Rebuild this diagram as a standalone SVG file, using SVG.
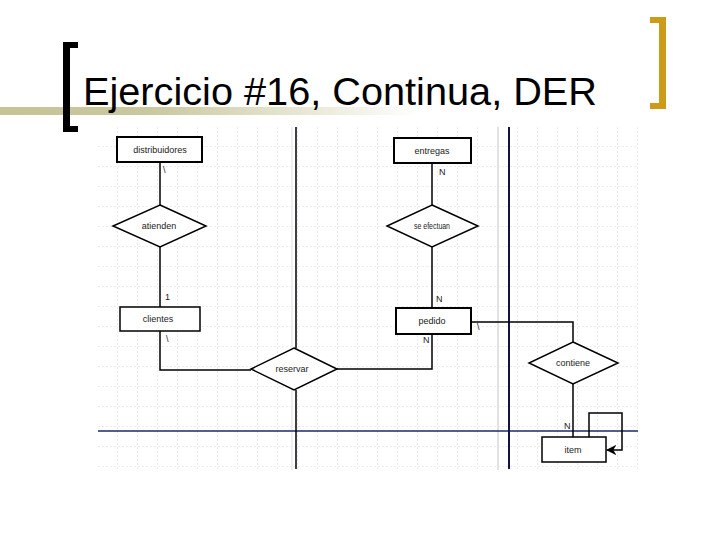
<svg xmlns="http://www.w3.org/2000/svg" width="720" height="540" viewBox="0 0 720 540">
<defs>
<linearGradient id="bar" x1="0" y1="0" x2="1" y2="0">
<stop offset="0" stop-color="#c6c496"/>
<stop offset="0.35" stop-color="#c9c79d"/>
<stop offset="1" stop-color="#c9c79d" stop-opacity="0"/>
</linearGradient>
<pattern id="grid" x="98" y="127" width="20" height="20" patternUnits="userSpaceOnUse">
<path d="M20 0V20M0 20H20" fill="none" stroke="#cfcfcf" stroke-width="0.8" stroke-dasharray="2 2"/>
</pattern>
<marker id="arr" viewBox="0 0 10 10" refX="9" refY="5" markerWidth="7" markerHeight="7" orient="auto">
<path d="M0 0L10 5L0 10L3 5Z" fill="#000"/>
</marker>
<style>
.ent{fill:#fff;stroke:#000;stroke-width:2}
.rel{fill:#fff;stroke:#000;stroke-width:1.5}
.t{font-family:"Liberation Sans",Arial,sans-serif;font-size:9px;fill:#222;text-anchor:middle}
.c{font-family:"Liberation Sans",Arial,sans-serif;font-size:9px;fill:#222}
.ln{fill:none;stroke:#000;stroke-width:1.5}
</style>
</defs>
<rect width="720" height="540" fill="#fff"/>
<!-- title decorations -->
<rect x="0" y="107" width="420" height="8" fill="url(#bar)"/>
<path d="M63 42H78V48H70V126H78V132H63Z" fill="#000"/>
<path d="M650 17H666V109H650V103H659V23H650Z" fill="#cc9b17"/>
<text x="83" y="105" font-family="'Liberation Sans',Arial,sans-serif" font-size="38" fill="#000" textLength="514" lengthAdjust="spacingAndGlyphs">Ejercicio #16, Continua, DER</text>
<!-- picture background -->
<rect x="98" y="127" width="540" height="343" fill="#fff"/>
<rect x="98" y="127" width="540" height="343" fill="url(#grid)"/>
<line x1="292" y1="127" x2="292" y2="470" stroke="#e8ecf0" stroke-width="1.5"/>
<line x1="498" y1="127" x2="498" y2="470" stroke="#e2e2e2" stroke-width="2"/>
<line x1="98" y1="431" x2="638" y2="431" stroke="#1c2a6a" stroke-width="1.3"/>
<line x1="509" y1="127" x2="509" y2="469" stroke="#10143e" stroke-width="2"/>
<g id="connectors">
<line class="ln" x1="296" y1="127" x2="296" y2="348"/>
<line class="ln" x1="296" y1="390" x2="296" y2="469"/>
<line class="ln" x1="160" y1="162" x2="160" y2="205"/>
<line class="ln" x1="160" y1="247" x2="160" y2="307"/>
<path class="ln" d="M160 331V370H251" stroke-width="2"/>
<path class="ln" d="M337 369H432V334"/>
<line class="ln" x1="432" y1="163" x2="432" y2="205"/>
<line class="ln" x1="432" y1="247" x2="432" y2="308"/>
<path class="ln" d="M471 322H573V342" stroke-width="2"/>
<line class="ln" x1="573" y1="384" x2="573" y2="437"/>
<path class="ln" d="M589 437V413H622V450H607" marker-end="url(#arr)"/>
<text class="c" x="163" y="173">\</text>
<text class="c" x="165" y="300">1</text>
<text class="c" x="166" y="342">\</text>
<text class="c" x="439" y="175">N</text>
<text class="c" x="436" y="302">N</text>
<text class="c" x="423" y="343">N</text>
<text class="c" x="477" y="330">\</text>
<text class="c" x="564" y="429">N</text>
</g>
<g id="distribuidores">
<rect class="ent" x="117" y="137" width="85" height="25"/>
<text class="t" x="160" y="153">distribuidores</text>
</g>
<g id="atienden">
<path class="rel" d="M160 205L206 226L160 247L113 226Z"/>
<text class="t" x="159" y="229">atienden</text>
</g>
<g id="clientes">
<rect class="rel" x="120" y="307" width="80" height="24"/>
<text class="t" x="158" y="322">clientes</text>
</g>
<g id="reservar">
<path class="rel" d="M294 348L337 369L294 390L251 369Z"/>
<text class="t" x="292" y="372">reservar</text>
</g>
<g id="entregas">
<rect class="ent" x="394" y="138" width="77" height="25"/>
<text class="t" x="432" y="154">entregas</text>
</g>
<g id="se-efectuan">
<path class="rel" d="M432 205L478 226L432 247L387 226Z"/>
<text class="t" x="432" y="229" textLength="36" lengthAdjust="spacingAndGlyphs">se efectuan</text>
</g>
<g id="pedido">
<rect class="ent" x="396" y="308" width="75" height="26"/>
<text class="t" x="432" y="324">pedido</text>
</g>
<g id="contiene">
<path class="rel" d="M573 342L618 363L573 384L529 363Z"/>
<text class="t" x="573" y="366">contiene</text>
</g>
<g id="item">
<rect class="rel" x="542" y="437" width="64" height="25"/>
<text class="t" x="573" y="453">item</text>
</g>
</svg>
